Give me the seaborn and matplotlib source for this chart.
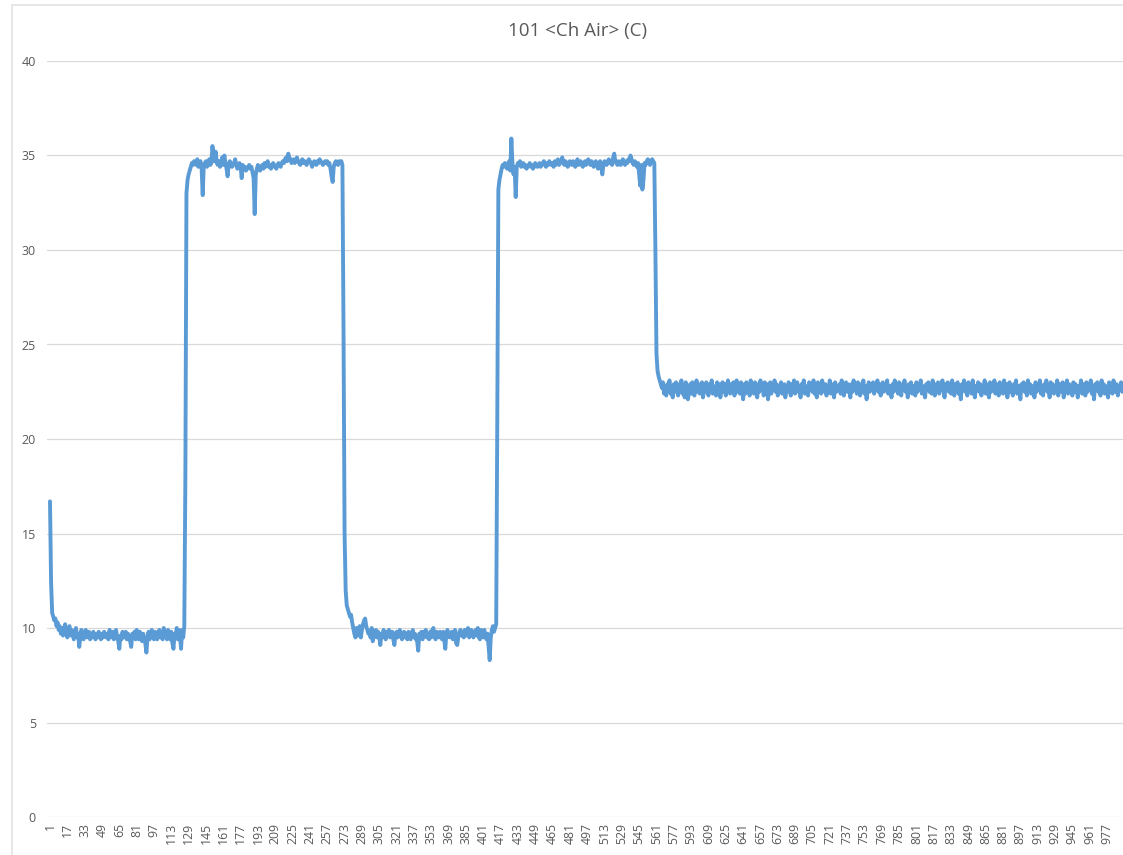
import numpy as np
import pandas as pd
import matplotlib
matplotlib.use("Agg")
import matplotlib.pyplot as plt
from matplotlib.lines import Line2D
import seaborn as sns

# ---- data (tenths of a degree C) ----
low_1 = """167 124 108 106 104 105 101 103 99 101
97 100 96 99 102 97 95 99 101 96
99 97 94 98 100 95 97 90 95 99
96 94 97 99 95 96 98 94 97 95
98 96 94 97 95 98 96 94 97 95
98 96 95 97 94 99 96 95 98 94
97 99 95 93 89 96 94 98 95 96
98 94 97 95 93 90 97 95 98 94
99 96 94 98 95 93 97 95 92 87
95 98 94 97 99 95 94 98 96 94
98 99 95 97 94 100 96 98 94 99
96 94 98 92 89 97 95 100 94 99
96 89 99 95 101"""

high_1 = """180 330 337 340 342 344 346 345 347 346
345 348 344 346 347 343 329 345 346 347
344 346 348 345 346 355 350 347 352 346
345 347 344 346 349 345 350 346 343 339
345 347 346 344 345 346 348 345 343 344
346 344 338 345 343 344 342 343 344 345
343 344 341 338 319 340 343 345 344 342
344 345 343 346 344 345 347 344 345 343
344 346 345 344 343 345 346 345 344 346
347 346 348 349 347 351 349 348 346 347
348 346 347 349 347 346 345 347 348 346
347 346 345 347 348 347 346 344 346 347
346 345 347 346 348 347 346 345 346 347
346 347 345 346 343 339 336 344 346 347
346 345 347 346 347 345"""

low_2 = """260 150 120 112 110 108 106 107 103 100
97 95 100 96 99 101 95 99 102 104
105 101 99 97 98 95 100 93 96 98
99 95 98 96 91 97 95 99 97 94
98 96 99 95 97 98 94 91 97 98
95 97 99 96 94 97 98 95 97 94
98 96 94 97 99 95 97 94 93 88
97 95 98 94 98 96 99 95 96 94
98 95 99 100 96 94 98 96 95 98
97 94 98 94 89 97 99 96 95 97
98 94 97 99 92 91 95 98 99 96
98 95 99 96 98 100 95 96 99 97
95 97 99 96 100 95 94 99 97 95
99 96 94 97 90 83 95 99 101 98
100 102"""

high_2 = """210 332 337 340 343 345 344 346 345 343
345 347 342 359 346 340 344 328 344 346
345 347 344 345 346 344 345 343 344 345
346 344 345 343 344 346 345 344 345 346
344 345 346 347 345 344 346 345 347 346
345 346 344 347 345 346 348 345 346 347
349 346 345 347 346 344 345 347 346 345
347 346 344 346 348 345 346 347 345 344
346 347 345 346 348 346 345 347 346 344
346 347 345 343 346 347 344 340 345 347
346 345 347 348 346 347 345 349 351 347
346 345 347 346 345 347 348 346 345 347
346 348 347 350 348 346 345 347 346 344
346 340 334 345 332 337 346 345 347 348
347 345 347 348 347 346"""

ambient = """300 245 236 233 231 229 227 230 224 228
223 229 226 231 224 227 222 229 225 230
226 223 229 227 231 224 228 222 230 226
221 225 229 224 230 227 223 228 231 225
229 224 227 230 222 228 225 230 226 223
229 226 231 224 228 227 223 230 225 229
222 227 230 225 229 223 228 231 226 224
229 226 230 223 227 231 225 228 224 230
227 221 229 224 230 226 228 223 231 225
228 224 230 227 222 229 225 231 226 228
223 230 225 229 221 227 230 224 228 226
231 225 229 223 228 226 230 224 227 229
222 228 225 230 227 223 229 226 231 224
228 230 225 227 222 229 226 231 224 228
227 223 230 226 229 225 231 224 228 222
230 226 229 224 231 227 225 229 223 228
226 231 224 229 227 222 230 225 228 226
229 224 231 227 223 228 230 225 229 226
222 229 225 231 226 228 224 230 227 223
229 226 231 224 228 221 227 230 225 229
226 230 224 228 227 231 225 229 223 228
230 225 229 226 231 224 228 227 222 229
225 231 226 228 224 230 227 223 229 226
231 225 228 222 229 226 230 224 228 227
223 230 225 229 226 231 224 228 227 222
229 226 230 225 228 224 231 227 223 229
226 230 224 228 227 231 225 222 229 226
230 225 228 224 231 227 223 229 226 230
224 228 221 229 226 231 225 228 223 230
226 229 224 231 227 222 228 226 230 225
229 223 228 226 231 224 229 227 222 230
225 228 226 231 224 229 227 223 230 226
228 224 231 226 229 222 227 230 225 228
223 229 226 231 224 228 227 221 229 226
230 225 228 223 231 226 229 224 228 227
222 230 225 229 226 231 224 228 223 229
227 231 225 228 222 230 226 229 224 228
226 231 223 229 227 225 230 222 228 226
231 224 229 226 228 223 230 225 229 227
222 228 226 231 224 229 227 223 230 225
229 226 231 224 228 221 229 226 230 225
228 223 231 226 229 224 228 227 222 230
226 229 224 231 227 225 229 223 228 226
230 225 229 227"""

segments = [low_1, high_1, low_2, high_2, ambient]
temps = np.concatenate([np.array(s.split(), dtype=float) / 10.0 for s in segments])
sample = np.arange(1, len(temps) + 1)

title_text = "101 <Ch Air> (C)"
y_ticks = [0, 5, 10, 15, 20, 25, 30, 35, 40]
x_tick_step = 16
x_tick_last = 977

df = pd.DataFrame({"sample": sample, "temp": temps})

# ---- figure ----
sns.set_style("white")
plt.rcParams["font.family"] = ["Open Sans", "DejaVu Sans"]

W, H = 1123, 855
fig = plt.figure(figsize=(W / 100, H / 100), dpi=100)
ax_left, ax_right, ax_top, ax_bottom = 47, 1123, 61, 817
ax = fig.add_axes([ax_left / W, 1 - ax_bottom / H,
                   (ax_right - ax_left) / W, (ax_bottom - ax_top) / H])

sns.lineplot(data=df, x="sample", y="temp", ax=ax, color="#5b9bd5",
             linewidth=2.8, solid_joinstyle="round", solid_capstyle="round")

px_per_pt = 1.083
first_px = 50
x0 = 1 - (first_px - ax_left) / px_per_pt
ax.set_xlim(x0, x0 + (ax_right - ax_left) / px_per_pt)
ax.set_ylim(0, 40)

xt = list(range(1, x_tick_last + 1, x_tick_step))
ax.set_xticks(xt)
ax.set_xticklabels([str(v) for v in xt], rotation=90, fontsize=8.8, color="#595959")
ax.set_yticks(y_ticks)
ax.set_yticklabels([str(v) for v in y_ticks], fontsize=9, color="#595959")
ax.tick_params(axis="both", length=0)
ax.tick_params(axis="y", pad=8)
ax.tick_params(axis="x", pad=4)
ax.set_xlabel("")
ax.set_ylabel("")
for s in ax.spines.values():
    s.set_visible(False)
ax.grid(axis="y", color="#d9d9d9", linewidth=0.9)
ax.grid(axis="x", visible=False)
ax.set_axisbelow(True)

fig.text(578 / W, 1 - 31 / H, title_text, ha="center", va="center",
         fontsize=13.5, color="#595959")

# chart area border (top and left)
fig.add_artist(Line2D([12 / W, 1], [1 - 5 / H, 1 - 5 / H], color="#e3e3e3", lw=1.2))
fig.add_artist(Line2D([12 / W, 12 / W], [0, 1 - 5 / H], color="#e3e3e3", lw=1.2))

fig.savefig("out.png", dpi=100)
